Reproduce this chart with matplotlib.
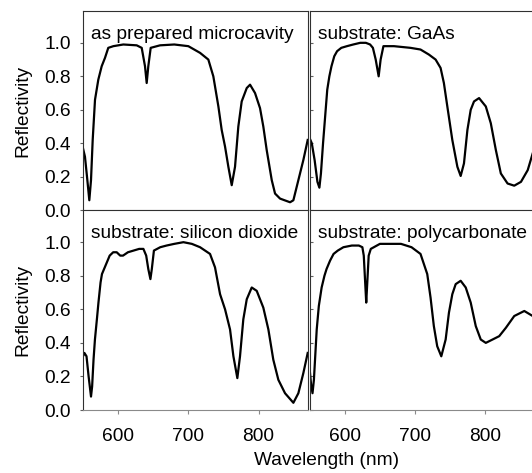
import matplotlib
matplotlib.use('Agg')
import matplotlib.pyplot as plt

plt.rcParams['font.family'] = ['Liberation Sans', 'DejaVu Sans']

# as prepared microcavity
wl_asprep = [550, 552.8, 556.2, 559, 561.4, 563.8, 567.1, 571.8, 576.6, 581.3, 586, 593.2, 607.4, 626.5,
             633.6, 638.3, 640.7, 643, 646.4, 659.7, 680, 700, 716.7, 728.5, 735.6, 742.8, 747.5,
             752.3, 757, 761.8, 766.5, 771.2, 776, 783.2, 787.9, 795, 802.1, 806.8, 811.6, 818.8,
             823.5, 830.6, 837, 844.9, 849.6, 856.7, 863.8, 869.5, 870]
r_asprep = [0.37, 0.32, 0.18, 0.06, 0.18, 0.42, 0.66, 0.78, 0.86, 0.91, 0.97, 0.98, 0.99, 0.985,
            0.97, 0.86, 0.76, 0.86, 0.97, 0.985, 0.99, 0.98, 0.94, 0.90, 0.80, 0.62, 0.48,
            0.38, 0.26, 0.15, 0.26, 0.50, 0.65, 0.73, 0.75, 0.70, 0.61, 0.50, 0.36, 0.18,
            0.10, 0.07, 0.06, 0.048, 0.06, 0.18, 0.30, 0.41, 0.42]

# substrate: GaAs
wl_gaas = [550, 553, 557, 561, 563.8, 566, 569, 572, 575, 578, 581, 585, 589, 595, 603, 612, 622, 630,
           636, 640, 644, 648.2, 651, 655, 670, 693.5, 707.8, 719.7, 729.3, 736.4, 741.1, 746, 753.1,
           760.3, 765, 769.7, 774.6, 779.3, 784, 791.2, 800.8, 807.9, 815.1, 822.2, 831.8, 841.3,
           850.9, 860.5, 867.6, 870]
r_gaas = [0.43, 0.40, 0.30, 0.17, 0.135, 0.22, 0.40, 0.56, 0.72, 0.80, 0.86, 0.92, 0.95, 0.97, 0.98, 0.99, 1.0, 1.0,
          0.99, 0.97, 0.90, 0.80, 0.90, 0.98, 0.98, 0.97, 0.96, 0.93, 0.90, 0.85, 0.76, 0.62, 0.42,
          0.26, 0.205, 0.28, 0.48, 0.60, 0.65, 0.67, 0.62, 0.52, 0.36, 0.22, 0.16, 0.147,
          0.17, 0.24, 0.34, 0.37]

# substrate: silicon dioxide
wl_sio2 = [550, 552, 555, 558, 561.4, 563, 565, 567, 570, 572, 575, 577, 580, 583, 588, 593, 598, 603,
           607, 614, 622, 630, 636, 640, 643, 646, 648, 651, 660, 669, 680, 693, 705, 716.7, 730.9,
           738, 745.2, 752.3, 759.4, 764.2, 769.8, 773.6, 778.3, 783.2, 790.3, 797.4, 806.8, 814,
           821, 828.2, 837.7, 849.6, 856.7, 863.8, 869.5, 870]
r_sio2 = [0.32, 0.34, 0.32, 0.20, 0.08, 0.14, 0.30, 0.42, 0.55, 0.64, 0.76, 0.81, 0.84, 0.87, 0.92, 0.94, 0.94, 0.92,
          0.92, 0.94, 0.95, 0.96, 0.96, 0.92, 0.84, 0.78, 0.84, 0.95, 0.97, 0.98, 0.99, 1.0, 0.99, 0.97, 0.93,
          0.85, 0.69, 0.60, 0.48, 0.32, 0.19, 0.32, 0.54, 0.66, 0.73, 0.71, 0.61, 0.48,
          0.30, 0.18, 0.10, 0.043, 0.10, 0.22, 0.33, 0.34]

# substrate: polycarbonate
wl_poly = [550, 552, 554, 556, 558, 560, 563, 567, 571, 574, 579, 584, 590, 598, 610, 620, 625, 627, 629,
           630.5, 632, 634, 637, 650, 680, 695, 707.8, 717.4, 722.1, 726.8, 731.6, 737.4, 743.6, 748.3,
           753.1, 757.9, 765, 772.2, 779.3, 786.5, 793.6, 800.8, 810.4, 819.9, 829.4, 841.3, 855.6,
           867.6, 870]
r_poly = [0.24, 0.15, 0.10, 0.18, 0.33, 0.48, 0.62, 0.73, 0.80, 0.84, 0.89, 0.93, 0.95, 0.97, 0.98, 0.98, 0.97,
          0.92, 0.76, 0.64, 0.76, 0.92, 0.96, 0.99, 0.99, 0.97, 0.93, 0.81, 0.67, 0.50, 0.38, 0.32, 0.42,
          0.58, 0.69, 0.75, 0.77, 0.73, 0.64, 0.50, 0.42, 0.40, 0.42, 0.44, 0.49, 0.56, 0.59,
          0.56, 0.55]

panel_labels = ['as prepared microcavity', 'substrate: GaAs',
                'substrate: silicon dioxide', 'substrate: polycarbonate']
yticks = [0.0, 0.2, 0.4, 0.6, 0.8, 1.0]

W, H = 532, 473
fig = plt.figure(figsize=(W / 100, H / 100), dpi=100)

FS = 13.8
left_x = [83 / W, 309.7 / W]
pw = 224.7 / W
row_y = [1 - 210.3 / H, 1 - 410 / H]
ph = [199.3 / H, 199.7 / H]

series = [(wl_asprep, r_asprep), (wl_gaas, r_gaas), (wl_sio2, r_sio2), (wl_poly, r_poly)]

for i, (wl, r) in enumerate(series):
    row, col = i // 2, i % 2
    ax = fig.add_axes([left_x[col], row_y[row], pw, ph[row]])
    ax.plot(wl, r, color='black', lw=1.6, solid_joinstyle='round')
    ax.set_xlim(550, 870)
    ax.set_ylim(0, 1.19)
    for s in ax.spines.values():
        s.set_color('#303030')
        s.set_linewidth(0.8)
    ax.spines['bottom'].set_color('#8a8a8a')
    if row == 0:
        ax.set_xticks([600, 650, 700, 750, 800, 850])
        ax.set_xticklabels([])
    else:
        ax.set_xticks([600, 700, 800])
        ax.tick_params(axis='x', labelsize=FS, pad=10)
    ax.tick_params(axis='x', direction='out', length=3, width=0.8, color='#8a8a8a')
    ax.set_yticks(yticks)
    if col == 0:
        ax.set_yticklabels(['%.1f' % v for v in yticks])
        ax.tick_params(axis='y', direction='out', length=2.5, width=0.8, color='#606060',
                       labelsize=FS, pad=6)
    else:
        ax.set_yticklabels([])
        ax.tick_params(axis='y', direction='in', length=2, width=0.8, color='#606060')
    ax.annotate(panel_labels[i], xy=(0, 1), xycoords='axes fraction',
                xytext=(5.8, -20), textcoords='offset points', ha='left', va='baseline',
                fontsize=FS)

fig.text(23 / W, 1 - 110.5 / H, 'Reflectivity', rotation=90, ha='center', va='center', fontsize=FS)
fig.text(23 / W, 1 - 310 / H, 'Reflectivity', rotation=90, ha='center', va='center', fontsize=FS)
fig.text(326.5 / W, 1 - 460 / H, 'Wavelength (nm)', ha='center', va='center', fontsize=FS)

plt.savefig('out.png', dpi=100)
